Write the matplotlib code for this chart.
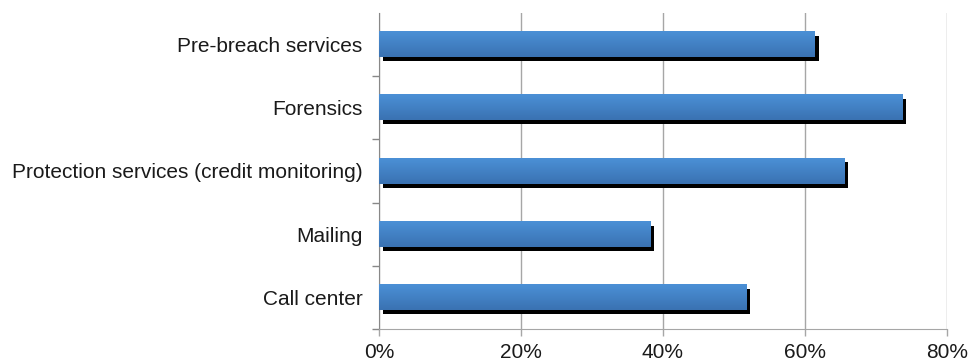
import matplotlib.pyplot as plt
import matplotlib.transforms as mtransforms
import numpy as np

plt.rcParams['font.family'] = ['Liberation Sans', 'DejaVu Sans']

# services offered after a breach, share of respondents
categories = ['Call center', 'Mailing', 'Protection services (credit monitoring)',
              'Forensics', 'Pre-breach services']
values = [51.7, 38.2, 65.5, 73.7, 61.4]
xticks = [0, 20, 40, 60, 80]

fig = plt.figure(figsize=(9.71, 3.64), dpi=100)
ax = fig.add_axes([0.3903, 0.0962, 0.5850, 0.8681])

y = np.arange(len(categories))
h = 0.40

# drop shadow: same bars shifted right/down a few pixels
shadow = mtransforms.offset_copy(ax.transData, fig=fig, x=4, y=-4, units='dots')
ax.barh(y, values, height=h, color='black', transform=shadow, zorder=2)

# gradient-filled bars
grad = np.linspace(0, 1, 64).reshape(-1, 1)
cmap = plt.matplotlib.colors.LinearSegmentedColormap.from_list(
    'bluegrad', ['#4b90d6', '#3a72b2'])
for yi, v in zip(y, values):
    ax.imshow(grad, cmap=cmap, aspect='auto', extent=[0, v, yi - h / 2, yi + h / 2],
              origin='upper', zorder=3, interpolation='bilinear')

ax.set_xlim(0, 80)
ax.set_ylim(-0.5, len(categories) - 0.5)
ax.set_xticks(xticks)
ax.set_xticklabels([f'{t}%' for t in xticks], fontsize=15, color='#1a1a1a')
ax.set_yticks(y)
ax.set_yticklabels(categories, fontsize=15, color='#1a1a1a')
# separator ticks between categories (none on the top edge)
ax.set_yticks(np.arange(-0.5, len(categories) - 1), minor=True)
ax.tick_params(axis='y', which='major', length=0, pad=12)
ax.tick_params(axis='y', which='minor', length=5, color='#888888', width=1)
ax.tick_params(axis='x', length=5, color='#a6a6a6', width=1, pad=5)

ax.grid(axis='x', color='#a6a6a6', lw=1, zorder=0)
ax.set_axisbelow(True)
for s in ['top', 'right']:
    ax.spines[s].set_visible(False)
ax.spines['left'].set_color('#888888')
ax.spines['bottom'].set_color('#a6a6a6')

fig.savefig('out.png', dpi=100)
